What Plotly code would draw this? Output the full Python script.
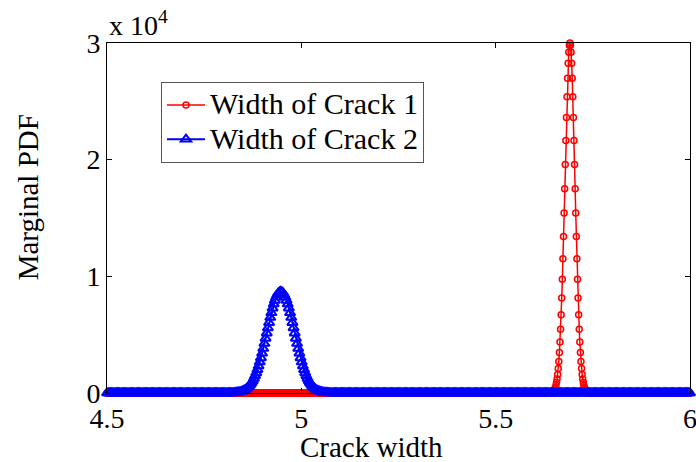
import numpy as np
import plotly.graph_objects as go

# ---------------- data ----------------
x_ticks = [4.5, 5.0, 5.5, 6.0]
x_tick_labels = ["4.5", "5", "5.5", "6"]
y_ticks = [0, 10000, 20000, 30000]
y_tick_labels = ["0", "1", "2", "3"]
series_names = ["Width of Crack 1", "Width of Crack 2"]

# sample grids of the two marginal PDFs
crack1_grid_start, crack1_grid_step, crack1_grid_n = 4.5, 0.0015, 1001
crack2_grid_start, crack2_grid_step, crack2_grid_n = 4.5, 0.003, 501

# Crack 1: non-zero part of the PDF, starting at x = 5.646 (grid index 764)
crack1_peak_index = 764
crack1_peak = [75, 110, 160, 230, 330, 470, 650, 890, 1200, 1590, 2090, 2710, 3470,
               4380, 5460, 6710, 8140, 9740, 11500, 13410, 15420, 17500, 19590, 21650,
               23610, 25400, 26970, 28260, 29210, 29800, 30000, 29800, 29210, 28260,
               26970, 25400, 23610, 21650, 19590, 17500, 15420, 13410, 11500, 9740,
               8140, 6710, 5460, 4380, 3470, 2710, 2090, 1590, 1200, 890, 650, 470,
               330, 230, 160, 110, 75]

# Crack 2: non-zero part of the PDF, starting at x = 4.827 (grid index 109)
crack2_peak_index = 109
crack2_peak = [24, 33, 43, 57, 75, 97, 125, 159, 202, 255, 319, 396, 488, 598, 726, 876,
               1048, 1247, 1470, 1722, 2002, 2310, 2647, 3009, 3397, 3807, 4235, 4677,
               5127, 5578, 6026, 6461, 6877, 7267, 7623, 7937, 8203, 8417, 8573, 8668,
               8700, 8668, 8573, 8417, 8203, 7937, 7623, 7267, 6877, 6461, 6026, 5578,
               5127, 4677, 4235, 3807, 3397, 3009, 2647, 2310, 2002, 1722, 1470, 1247,
               1048, 876, 726, 598, 488, 396, 319, 255, 202, 159, 125, 97, 75, 57, 43,
               33, 24]

crack1_x = np.round(crack1_grid_start + crack1_grid_step * np.arange(crack1_grid_n), 5)
crack1_y = np.zeros(crack1_grid_n)
crack1_y[crack1_peak_index:crack1_peak_index + len(crack1_peak)] = crack1_peak

crack2_x = np.round(crack2_grid_start + crack2_grid_step * np.arange(crack2_grid_n), 5)
crack2_y = np.zeros(crack2_grid_n)
crack2_y[crack2_peak_index:crack2_peak_index + len(crack2_peak)] = crack2_peak

# ---------------- figure ----------------
FONT = "Liberation Serif, Times New Roman, serif"


def legend_label(name):
    return "<span style='font-size:30px'>" + name + "</span>"


fig = go.Figure()
fig.add_trace(go.Scatter(
    x=crack1_x, y=crack1_y, mode="lines+markers", name=legend_label(series_names[0]),
    line=dict(color="#ff0000", width=1.5),
    marker=dict(symbol="circle-open", size=6, color="#ff0000", line=dict(width=1.5)),
    cliponaxis=False,
))
fig.add_trace(go.Scatter(
    x=crack2_x, y=crack2_y, mode="lines+markers", name=legend_label(series_names[1]),
    line=dict(color="#0000ff", width=2),
    marker=dict(symbol="triangle-up-open", size=9, color="#0000ff", line=dict(width=2)),
    cliponaxis=False,
))

axis_common = dict(
    showline=True, linecolor="#000000", linewidth=1, mirror="ticks",
    ticks="inside", ticklen=5, tickcolor="#000000", showgrid=False, zeroline=False,
    tickfont=dict(family=FONT, size=28, color="#000000"), automargin=False,
    ticklabeloverflow="allow",
)
fig.update_xaxes(range=[4.5, 6.0], tickmode="array", tickvals=x_ticks,
                 ticktext=x_tick_labels, **axis_common)
fig.update_yaxes(range=[0, 30000], tickmode="array", tickvals=y_ticks,
                 ticktext=y_tick_labels, **axis_common)

fig.update_layout(
    width=696, height=462,
    margin=dict(l=107, r=6, t=43, b=69, autoexpand=False),
    paper_bgcolor="#ffffff", plot_bgcolor="#ffffff",
    font=dict(family=FONT, size=28, color="#000000"),
    showlegend=True,
    legend=dict(
        x=0.0926, y=0.889, xanchor="left", yanchor="top",
        bgcolor="#ffffff", bordercolor="#555555", borderwidth=1,
        font=dict(family=FONT, size=24, color="#000000"),
        tracegroupgap=0, itemsizing="trace", itemwidth=38,
    ),
    annotations=[
        dict(text="x 10<sup>4</sup>", xref="paper", yref="paper", x=0.0, y=1.0,
             xanchor="left", yanchor="bottom", showarrow=False,
             font=dict(family=FONT, size=28, color="#000000")),
        dict(text="Crack width", xref="paper", yref="paper", x=0.453, y=-0.154,
             xanchor="center", yanchor="middle", showarrow=False,
             font=dict(family=FONT, size=29, color="#000000")),
        dict(text="Marginal PDF", xref="paper", yref="paper", x=-0.134, y=0.5586,
             xanchor="center", yanchor="middle", showarrow=False, textangle=-90,
             font=dict(family=FONT, size=29, color="#000000")),
    ],
)

fig.write_html("out.html")
